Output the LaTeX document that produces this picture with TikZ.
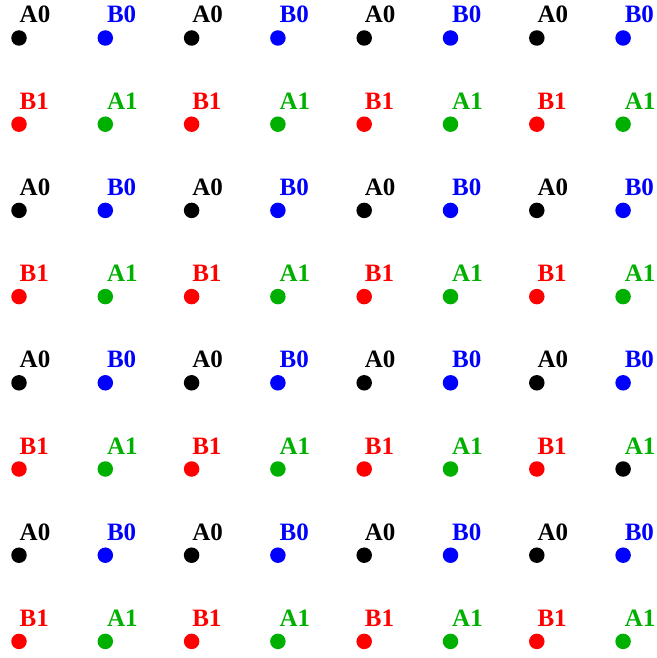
\documentclass[tikz,border=0pt]{standalone}
\usepackage{fontspec}
\setmainfont{Liberation Serif}
\usepackage{tikz}
\usepackage{xcolor}
\definecolor{siteblue}{RGB}{0,0,255}
\definecolor{sitered}{RGB}{255,0,0}
\definecolor{sitegreen}{RGB}{0,176,0}
\tikzset{
  site/.style={circle,fill,inner sep=0pt,minimum size=15.5pt},
  tag/.style={anchor=base west,inner sep=0pt,font=\bfseries\fontsize{25}{25}\selectfont}
}

\begin{document}
\begin{tikzpicture}[x=1pt,y=-1pt]
    \useasboundingbox (0,0) rectangle (656,658);

    % A0 / B0 rows
    \foreach \j in {0,2,4,6}
        \foreach \i in {0,2,4,6}{
            \pgfmathsetmacro\xa{19+86.3*\i}
            \pgfmathsetmacro\xb{19+86.3*(\i+1)}
            \pgfmathsetmacro\yy{38+86.2*\j}
            \node[site,black] (a0-\i-\j) at (\xa,\yy) {};
            \node[tag,black] (ta0-\i-\j) at (\xa+0.5,\yy-15) {A0};
            \node[site,siteblue] (b0-\i-\j) at (\xb,\yy) {};
            \node[tag,siteblue] (tb0-\i-\j) at (\xb+1.5,\yy-15) {B0};
        }

    % B1 / A1 rows
    \foreach \j in {1,3,5,7}
        \foreach \i in {0,2,4,6}{
            \pgfmathsetmacro\xa{19+86.3*\i}
            \pgfmathsetmacro\xb{19+86.3*(\i+1)}
            \pgfmathsetmacro\yy{38+86.2*\j}
            \def\dotcol{sitegreen}
            \ifnum\i\j=65 \def\dotcol{black}\fi
            \node[site,sitered] (b1-\i-\j) at (\xa,\yy) {};
            \node[tag,sitered] (tb1-\i-\j) at (\xa+0.5,\yy-15) {B1};
            \node[site,\dotcol] (a1-\i-\j) at (\xb,\yy) {};
            \node[tag,sitegreen] (ta1-\i-\j) at (\xb+1.5,\yy-15) {A1};
        }
\end{tikzpicture}
\end{document}
